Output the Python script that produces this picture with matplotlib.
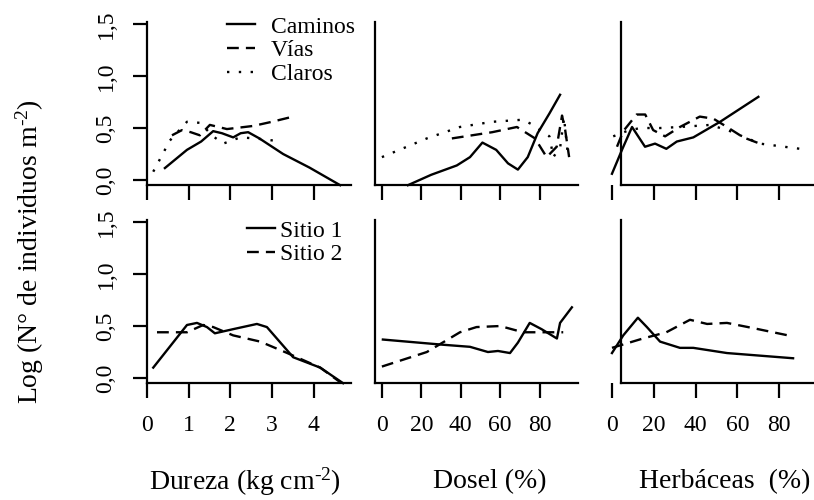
import matplotlib
matplotlib.use("Agg")
import matplotlib.pyplot as plt

plt.rcParams['font.family'] = ['Liberation Serif', 'DejaVu Serif']
plt.rcParams['mathtext.fontset'] = 'custom'
plt.rcParams['mathtext.rm'] = 'Liberation Serif'
plt.rcParams['mathtext.it'] = 'Liberation Serif:italic'

# ---- datos ----
# Dureza, fila superior (tipo de sitio)
dur_cam_x = [0.43, 0.96, 1.3, 1.59, 1.8, 2.07, 2.25, 2.43, 2.7, 3.27, 3.9, 4.64]
dur_cam_y = [0.115, 0.29, 0.37, 0.47, 0.45, 0.41, 0.45, 0.46, 0.40, 0.25, 0.12, -0.05]
dur_via_x = [0.6, 0.84, 1.05, 1.27, 1.51, 1.92, 2.55, 3.0, 3.51]
dur_via_y = [0.43, 0.48, 0.46, 0.43, 0.53, 0.49, 0.52, 0.56, 0.61]
dur_cla_x = [0.15, 0.55, 0.96, 1.27, 1.59, 1.83, 2.24, 2.6, 3.03]
dur_cla_y = [0.08, 0.38, 0.56, 0.55, 0.42, 0.35, 0.41, 0.40, 0.38]

# Dosel, fila superior
dos_cam_x = [13.2, 25, 38, 44.7, 51, 58, 64, 69, 74, 79, 85, 90.4]
dos_cam_y = [-0.05, 0.05, 0.14, 0.22, 0.36, 0.29, 0.16, 0.10, 0.22, 0.45, 0.64, 0.82]
dos_via_x = [35.5, 56, 68.5, 77.7, 83.6, 88.7, 91.4, 93, 95]
dos_via_y = [0.40, 0.46, 0.51, 0.40, 0.22, 0.32, 0.62, 0.48, 0.22]
dos_cla_x = [0, 22.8, 39.6, 56, 71.6, 76.6, 85, 87, 90.5, 92.4, 94.5]
dos_cla_y = [0.22, 0.40, 0.51, 0.56, 0.58, 0.53, 0.42, 0.22, 0.32, 0.60, 0.22]

# Herbaceas, fila superior
her_cam_x = [0, 5, 9.6, 15.8, 20.6, 26, 31, 38.9, 51.7, 70]
her_cam_y = [0.06, 0.30, 0.51, 0.32, 0.35, 0.30, 0.37, 0.41, 0.56, 0.80]
her_via_x = [2.4, 5.4, 11.8, 15.9, 19.7, 25.4, 32.5, 42, 48.5, 55, 62.8, 72]
her_via_y = [0.32, 0.47, 0.63, 0.63, 0.48, 0.42, 0.51, 0.61, 0.59, 0.51, 0.41, 0.34]
her_cla_x = [0.6, 7, 13.4, 23, 32.5, 47, 56.5, 70.8, 90]
her_cla_y = [0.42, 0.47, 0.50, 0.50, 0.51, 0.53, 0.47, 0.35, 0.30]

# Dureza, fila inferior (sitio)
dur_s1_x = [0.15, 0.96, 1.2, 1.44, 1.63, 2.07, 2.64, 2.88, 3.51, 4.16, 4.71]
dur_s1_y = [0.10, 0.51, 0.53, 0.49, 0.43, 0.47, 0.52, 0.49, 0.20, 0.10, -0.05]
dur_s2_x = [0.24, 0.96, 1.35, 1.59, 2.07, 2.72, 3.37, 4.16, 4.64]
dur_s2_y = [0.44, 0.44, 0.51, 0.49, 0.41, 0.35, 0.24, 0.10, -0.04]

# Dosel, fila inferior
dos_s1_x = [0.5, 31, 44.7, 53.8, 58.9, 65, 69, 75, 81, 88.8, 90.4, 96.4]
dos_s1_y = [0.37, 0.32, 0.30, 0.25, 0.26, 0.24, 0.34, 0.53, 0.47, 0.38, 0.53, 0.68]
dos_s2_x = [0, 22.8, 39.6, 48, 60, 71.6, 92]
dos_s2_y = [0.11, 0.25, 0.44, 0.49, 0.50, 0.44, 0.44]

# Herbaceas, fila inferior
her_s1_x = [0, 5.4, 12.4, 16.7, 23, 32.5, 38.9, 55, 86.6]
her_s1_y = [0.24, 0.41, 0.58, 0.49, 0.35, 0.29, 0.29, 0.24, 0.19]
her_s2_x = [0, 14.8, 26, 37.3, 45.5, 55, 67.5, 86.6]
her_s2_y = [0.29, 0.38, 0.44, 0.56, 0.52, 0.53, 0.48, 0.40]

ytick_vals = [0, 0.5, 1.0, 1.5]
ytick_lab = ["0,0", "0,5", "1,0", "1,5"]
dur_ticks = [0, 1, 2, 3, 4]
pct_ticks = [0, 20, 40, 60, 80]

W, H = 814, 500
fig = plt.figure(figsize=(W / 100, H / 100), dpi=100)

def caja(x0, x1, ytop, ybot):
    return [x0 / W, 1 - ybot / H, (x1 - x0) / W, (ybot - ytop) / H]

filas = [(22, 185.2), (220, 383.2)]
cols = [(147, 351, (0, 4.9), 0, dur_ticks),
        (375, 578, (-3.5, 99.5), -3.5, pct_ticks),
        (603.6, 814, (-4, 96.6), 4.3, pct_ticks)]

SOL = '-'
DAS = (0, (5, 3))
DOT = (0, (1, 4))
kw = dict(color='black', lw=1.7, clip_on=False)

axes = {}
for r, (yt, yb) in enumerate(filas):
    for c, (x0, x1, xl, sp, tk) in enumerate(cols):
        ax = fig.add_axes(caja(x0, x1, yt, yb))
        ax.set_xlim(*xl)
        ax.set_ylim(-0.05, 1.52)
        ax.spines['top'].set_visible(False)
        ax.spines['right'].set_visible(False)
        ax.spines['left'].set_position(('data', sp))
        ax.spines['bottom'].set_bounds(sp, xl[1])
        for s in ['left', 'bottom']:
            ax.spines[s].set_linewidth(1.6)
        ax.set_xticks(tk)
        ax.tick_params(axis='x', direction='out', length=11, width=1.6, pad=12,
                       labelsize=17, labelbottom=(r == 1))
        if c == 0:
            ax.set_yticks(ytick_vals)
            ax.set_yticklabels(ytick_lab, rotation=90, va='center')
            ax.tick_params(axis='y', direction='out', length=10, width=1.6, pad=12,
                           labelsize=17)
        else:
            ax.set_yticks([])
        ax.patch.set_visible(False)
        axes[(r, c)] = ax

# fila superior
a = axes[(0, 0)]
a.plot(dur_cam_x, dur_cam_y, linestyle=SOL, label='Caminos', **kw)
a.plot(dur_via_x, dur_via_y, linestyle=DAS, label='Vías', **kw)
a.plot(dur_cla_x, dur_cla_y, linestyle=DOT, label='Claros', **kw)
a.legend(loc='upper left', bbox_to_anchor=(227 / W, 1 - 16 / H),
         bbox_transform=fig.transFigure, frameon=False, fontsize=17,
         handlelength=1.2, handletextpad=0.65, labelspacing=0.1,
         borderpad=0, borderaxespad=0)

a = axes[(0, 1)]
a.plot(dos_cam_x, dos_cam_y, linestyle=SOL, **kw)
a.plot(dos_via_x, dos_via_y, linestyle=DAS, **kw)
a.plot(dos_cla_x, dos_cla_y, linestyle=DOT, **kw)

a = axes[(0, 2)]
a.plot(her_cam_x, her_cam_y, linestyle=SOL, **kw)
a.plot(her_via_x, her_via_y, linestyle=DAS, **kw)
a.plot(her_cla_x, her_cla_y, linestyle=DOT, **kw)

# fila inferior
a = axes[(1, 0)]
a.plot(dur_s1_x, dur_s1_y, linestyle=SOL, label='Sitio 1', **kw)
a.plot(dur_s2_x, dur_s2_y, linestyle=DAS, label='Sitio 2', **kw)
a.legend(loc='upper left', bbox_to_anchor=(247 / W, 1 - 220 / H),
         bbox_transform=fig.transFigure, frameon=False, fontsize=17,
         handlelength=1.2, handletextpad=0.2, labelspacing=0.1,
         borderpad=0, borderaxespad=0)

a = axes[(1, 1)]
a.plot(dos_s1_x, dos_s1_y, linestyle=SOL, **kw)
a.plot(dos_s2_x, dos_s2_y, linestyle=DAS, **kw)

a = axes[(1, 2)]
a.plot(her_s1_x, her_s1_y, linestyle=SOL, **kw)
a.plot(her_s2_x, her_s2_y, linestyle=DAS, **kw)

# titulos de ejes
fig.text(30 / W, 1 - 252 / H, r'Log (N° de individuos m$^{\text{-2}}$)', rotation=90,
         ha='center', va='center', fontsize=20)
fig.text(245 / W, 1 - 482 / H, r'Dureza (kg cm$^{\text{-2}}$)', ha='center', va='center', fontsize=20)
fig.text(490 / W, 1 - 482 / H, 'Dosel (%)', ha='center', va='center', fontsize=20)
fig.text(725 / W, 1 - 482 / H, 'Herbáceas  (%)', ha='center', va='center', fontsize=20)

fig.savefig('out.png', dpi=100)
